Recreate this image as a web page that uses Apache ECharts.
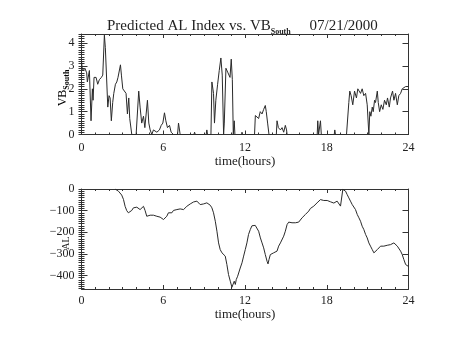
<!DOCTYPE html>
<html>
<head>
<meta charset="utf-8">
<script src="https://cdn.jsdelivr.net/npm/echarts@6/dist/echarts.min.js"></script>
<style>
  html, body { margin: 0; padding: 0; background: #fff; }
  #chart { width: 454px; height: 341px; }
</style>
</head>
<body>
<div id="chart"></div>
<script>
// Southward IMF component (nT-scaled), hours since 00 UT
const vbTime = [0.00,0.05,0.13,0.25,0.38,0.43,0.58,0.70,0.80,0.85,0.92,1.07,1.19,1.31,1.46,1.56,1.68,1.75,1.93,2.02,2.10,2.19,2.29,2.37,2.49,2.59,2.68,2.86,2.93,3.03,3.15,3.27,3.37,3.47,3.54,3.69,4.01,4.20,4.30,4.42,4.55,4.65,4.84,4.94,5.04,5.16,5.28,5.53,5.72,5.85,5.97,6.09,6.19,6.31,6.46,6.58,6.75,7.05,7.12,7.24,8.25,8.30,8.35,9.15,9.20,9.25,9.50,9.57,9.69,9.76,9.86,9.99,10.11,10.23,10.33,10.43,10.48,10.60,10.75,10.90,10.99,11.07,11.14,11.21,11.26,11.75,11.78,11.82,12.70,12.76,12.88,13.00,13.12,13.25,13.37,13.49,13.56,13.66,13.76,14.30,14.35,14.45,14.60,14.72,14.84,14.96,15.05,15.09,17.30,17.34,17.40,17.50,17.54,17.60,18.55,18.59,18.64,19.45,19.62,19.69,19.79,19.91,20.04,20.18,20.28,20.38,20.48,20.60,20.72,20.85,20.97,21.09,21.16,21.24,21.34,21.41,21.51,21.58,21.71,21.78,21.88,22.00,22.12,22.24,22.37,22.46,22.59,22.68,22.83,22.93,23.05,23.18,23.29,23.42,23.54,23.66,23.79,24.00];
const vbSouth = [3.2,2.9,2.8,2.9,2.7,2.3,2.8,0.6,2.0,1.5,2.5,2.5,2.2,2.4,2.5,2.6,4.35,3.8,1.2,1.7,1.6,0.6,1.4,1.8,2.2,2.3,2.5,3.05,2.6,2.0,2.0,1.8,0.9,1.6,0.7,0,0,1.9,1.2,0.5,0.8,0.3,1.5,0.5,0.2,0,0.2,0.1,0.2,0.4,0.5,0.95,0.6,0.3,0.4,0.1,0,0,0.5,0,0,0.1,0,0,0.2,0,0,2.3,1.8,0.5,1.5,2.2,2.8,3.35,2.6,0,0.5,2.9,2.7,2.5,3.3,2.4,0,0.6,0,0,0.1,0,0,0.83,0.9,0.7,1.0,0.9,1.1,1.27,1.0,0.5,0,0,0.6,0.3,0.2,0.3,0.1,0.4,0.2,0,0,0.6,0,0,0.6,0,0,0.2,0,0,1.4,1.9,1.7,1.3,1.9,1.6,2.0,2.0,1.8,2.0,1.7,1.8,1.3,0,1.0,0.8,1.2,1.0,1.5,1.4,1.9,1.4,1.0,1.3,1.1,1.5,1.3,1.6,1.2,1.6,1.9,1.5,1.8,1.3,1.7,1.8,2.0,2.0,2.1,2.1];

// Predicted AL index (nT), hours since 00 UT
const alTime = [2.46,2.71,2.95,3.08,3.20,3.32,3.44,3.57,3.69,3.81,3.93,4.06,4.18,4.30,4.42,4.55,4.67,4.79,4.91,5.04,5.16,5.28,5.40,5.53,5.65,5.77,5.89,6.02,6.14,6.26,6.38,6.51,6.63,6.75,6.88,7.00,7.12,7.24,7.37,7.49,7.61,7.73,7.86,7.98,8.10,8.22,8.35,8.47,8.59,8.71,8.84,8.96,9.08,9.20,9.33,9.45,9.57,9.69,9.82,9.94,10.06,10.18,10.31,10.43,10.55,10.67,10.79,10.92,11.04,11.12,11.16,11.21,11.29,11.36,11.46,11.53,11.65,11.78,11.90,12.02,12.14,12.26,12.39,12.51,12.63,12.75,12.88,13.00,13.13,13.25,13.37,13.49,13.62,13.69,13.76,13.86,13.98,14.10,14.23,14.35,14.47,14.60,14.72,14.84,14.96,15.09,15.21,15.33,15.45,15.58,15.70,15.82,15.94,16.07,16.19,16.31,16.43,16.56,16.68,16.80,16.92,17.05,17.17,17.29,17.41,17.54,17.66,17.78,17.90,18.03,18.15,18.27,18.40,18.52,18.64,18.76,18.88,19.01,19.08,19.18,19.25,19.38,19.50,19.62,19.74,19.87,19.99,20.11,20.24,20.36,20.48,20.60,20.72,20.85,20.97,21.09,21.21,21.34,21.46,21.58,21.71,21.83,21.95,22.07,22.19,22.32,22.44,22.56,22.68,22.81,22.93,23.05,23.18,23.29,23.42,23.54,23.66,23.79,24.00];
const alIndex = [0,-10,-28,-48,-80,-100,-110,-102,-99,-87,-80,-84,-87,-95,-88,-80,-100,-126,-130,-121,-130,-121,-126,-126,-130,-130,-136,-141,-133,-126,-110,-106,-110,-99,-90,-95,-95,-92,-100,-95,-87,-80,-75,-69,-64,-60,-53,-56,-64,-72,-69,-69,-69,-64,-69,-75,-87,-110,-149,-195,-249,-280,-295,-303,-310,-349,-395,-426,-454,-460,-449,-426,-441,-418,-403,-395,-365,-341,-310,-280,-249,-210,-187,-170,-166,-168,-175,-195,-226,-249,-272,-303,-334,-346,-326,-303,-295,-295,-290,-287,-264,-249,-241,-218,-195,-164,-153,-153,-156,-161,-156,-161,-153,-146,-133,-130,-118,-110,-102,-90,-84,-79,-72,-64,-56,-49,-50,-53,-56,-53,-56,-59,-64,-65,-69,-56,-56,-79,-75,-2,-2,-10,-26,-41,-56,-72,-79,-95,-118,-133,-149,-172,-187,-210,-226,-249,-264,-280,-295,-295,-280,-272,-264,-269,-264,-257,-260,-253,-257,-253,-249,-257,-264,-272,-287,-303,-326,-349,-358];

// Axis tick labels
const hourTicks = [0, 6, 12, 18, 24];
const vbTicks = [0, 1, 2, 3, 4];
const alTicks = [-400, -300, -200, -100, 0];

const VB_RANGE = [0, 4.4];
const AL_RANGE = [-462, 0];

const FONT = '"Liberation Serif", "DejaVu Serif", serif';
const INK = '#222';
const LINE = '#2a2a2a';
const FRAME = '#333';

function pairs(xs, ys) { return xs.map((x, i) => [x, ys[i]]); }

// evenly spaced minor tick positions between lo and hi
function minorSteps(lo, hi, step) {
  const out = [];
  const start = Math.ceil(lo / step - 1e-9);
  for (let k = start; k * step <= hi + 1e-9; k++) out.push(+(k * step).toFixed(6));
  return out;
}

function xAxisFor(gridIndex, bottom, labelMargin, nameGap) {
  return {
    type: 'value', gridIndex, min: 0, max: 24, interval: 6,
    position: bottom ? 'bottom' : 'top',
    axisLine: { show: true, onZero: false, lineStyle: { color: FRAME, width: 1 } },
    axisTick: { show: true, inside: true, length: 4, lineStyle: { color: FRAME } },
    minorTick: { show: true, splitNumber: 6, length: 2, lineStyle: { color: FRAME } },
    axisLabel: { show: bottom, color: INK, fontFamily: FONT, fontSize: 12, margin: labelMargin,
                 formatter: v => hourTicks.includes(v) ? String(v) : '' },
    splitLine: { show: false },
    name: bottom ? 'time(hours)' : '', nameLocation: 'middle', nameGap,
    nameTextStyle: { color: INK, fontFamily: FONT, fontSize: 13 }
  };
}

// major ticks (with frame line and labels on the left side)
function yMajor(gridIndex, left, range, ticks) {
  return {
    type: 'value', gridIndex, min: range[0], max: range[1],
    position: left ? 'left' : 'right',
    axisLine: { show: true, onZero: false, lineStyle: { color: FRAME, width: 1 } },
    axisTick: { show: true, inside: true, length: 6, customValues: ticks, lineStyle: { color: FRAME } },
    minorTick: { show: false },
    axisLabel: { show: left, customValues: ticks, color: INK, fontFamily: FONT, fontSize: 12, margin: 7,
                 formatter: v => String(v).replace('-', '\u2212') },
    splitLine: { show: false }
  };
}

// minor ticks only
function yMinor(gridIndex, left, range, step) {
  return {
    type: 'value', gridIndex, min: range[0], max: range[1],
    position: left ? 'left' : 'right',
    axisLine: { show: false },
    axisTick: { show: true, inside: true, length: 3, customValues: minorSteps(range[0], range[1], step),
                lineStyle: { color: FRAME } },
    minorTick: { show: false },
    axisLabel: { show: false },
    splitLine: { show: false }
  };
}

const subRich = (size, lh, pad) => ({
  a: { fontFamily: FONT, fontSize: size, color: INK, fontWeight: 'normal', verticalAlign: 'top', lineHeight: lh },
  s: { fontFamily: FONT, fontSize: 8, color: INK, fontWeight: 'bold', verticalAlign: 'top', lineHeight: lh, padding: [pad, 0, 0, 0] }
});

const chart = echarts.init(document.getElementById('chart'), null, { renderer: 'canvas' });

chart.setOption({
  animation: false,
  backgroundColor: '#fff',
  title: {
    text: '{a|Predicted AL Index vs. VB}{s|South}{a|     07/21/2000}',
    left: 102, top: 14,
    textStyle: { fontWeight: 'normal', rich: subRich(15, 16, 9) }
  },
  graphic: [
    { type: 'text', x: 63, y: 88, rotation: Math.PI / 2,
      style: { text: '{a|VB}{s|South}', rich: subRich(12, 13, 6), align: 'center', verticalAlign: 'middle' } },
    { type: 'text', x: 66, y: 243, rotation: Math.PI / 2,
      style: { text: 'AL', fontFamily: FONT, fontSize: 10, fill: INK, align: 'center', verticalAlign: 'middle' } }
  ],
  grid: [
    { left: 81.5, right: 45.5, top: 34, height: 100.5 },
    { left: 81.5, right: 45.5, top: 189, height: 100 }
  ],
  xAxis: [xAxisFor(0, true, 7, 21), xAxisFor(0, false, 7, 21), xAxisFor(1, true, 6, 19), xAxisFor(1, false, 6, 19)],
  yAxis: [
    yMajor(0, true, VB_RANGE, vbTicks),
    yMajor(0, false, VB_RANGE, vbTicks),
    yMinor(0, true, VB_RANGE, 0.1),
    yMinor(0, false, VB_RANGE, 0.1),
    yMajor(1, true, AL_RANGE, alTicks),
    yMajor(1, false, AL_RANGE, alTicks),
    yMinor(1, true, AL_RANGE, 10),
    yMinor(1, false, AL_RANGE, 10)
  ],
  series: [
    { type: 'line', xAxisIndex: 0, yAxisIndex: 0, data: pairs(vbTime, vbSouth),
      showSymbol: false, symbol: 'none', lineStyle: { color: LINE, width: 1 }, clip: true },
    { type: 'line', xAxisIndex: 2, yAxisIndex: 4, data: pairs(alTime, alIndex),
      showSymbol: false, symbol: 'none', lineStyle: { color: LINE, width: 1 }, clip: true }
  ]
});
</script>
</body>
</html>
